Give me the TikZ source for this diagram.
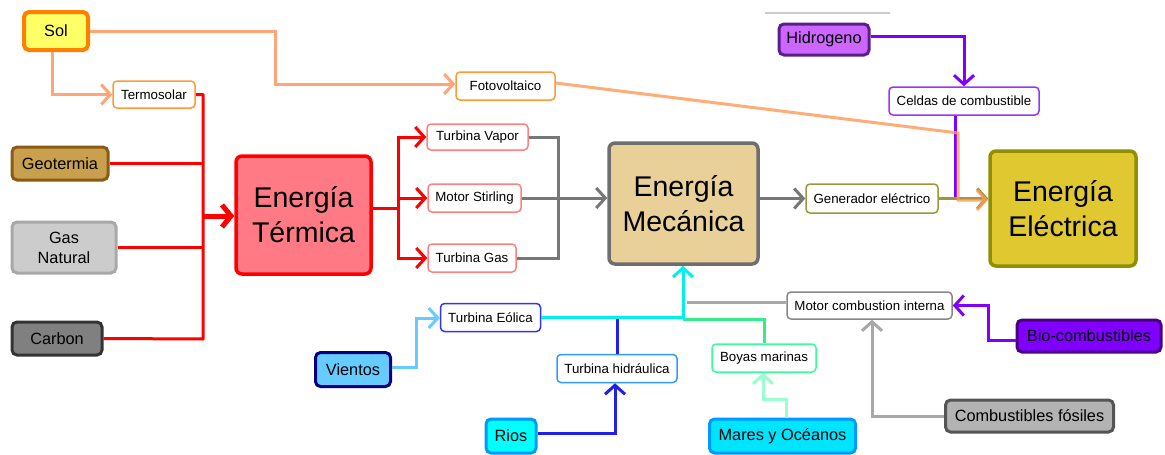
\documentclass[tikz,border=0pt]{standalone}
\usepackage{fontspec}
\setmainfont{Liberation Sans}
\usetikzlibrary{arrows.meta}
\definecolor{cSolF}{HTML}{FFFF66}
\definecolor{cSolD}{HTML}{FF8000}
\definecolor{cSun}{HTML}{FFA577}
\definecolor{cOrB}{HTML}{FF9933}
\definecolor{cGeoF}{HTML}{C9A04E}
\definecolor{cGeoD}{HTML}{8B5A14}
\definecolor{cGasF}{HTML}{CCCCCC}
\definecolor{cGasD}{HTML}{A8A8A8}
\definecolor{cCarF}{HTML}{808080}
\definecolor{cCarD}{HTML}{333333}
\definecolor{cTerF}{HTML}{FF7A85}
\definecolor{cRed}{HTML}{FF0000}
\definecolor{cTurb}{HTML}{FF8080}
\definecolor{cMecF}{HTML}{E8D098}
\definecolor{cMecD}{HTML}{6E6E6E}
\definecolor{cGrey}{HTML}{777777}
\definecolor{cGen}{HTML}{99993A}
\definecolor{cEleF}{HTML}{E0C830}
\definecolor{cEleD}{HTML}{8F8F00}
\definecolor{cHidF}{HTML}{CC66FF}
\definecolor{cHidD}{HTML}{5A1E8C}
\definecolor{cCel}{HTML}{9933FF}
\definecolor{cPur}{HTML}{8000FF}
\definecolor{cMci}{HTML}{888888}
\definecolor{cBioF}{HTML}{7F00FF}
\definecolor{cBioD}{HTML}{4B0082}
\definecolor{cComF}{HTML}{B3B3B3}
\definecolor{cComD}{HTML}{555555}
\definecolor{cLGrey}{HTML}{A8A8A8}
\definecolor{cEol}{HTML}{3333FF}
\definecolor{cVieF}{HTML}{66CCFF}
\definecolor{cVieD}{HTML}{000080}
\definecolor{cHid}{HTML}{3399FF}
\definecolor{cBoy}{HTML}{33FF99}
\definecolor{cRioF}{HTML}{00FFFF}
\definecolor{cRioD}{HTML}{0099FF}
\definecolor{cMarF}{HTML}{00E5FF}
\definecolor{cCyan}{HTML}{00F0F0}
\definecolor{cBlue}{HTML}{2020E8}
\definecolor{cGreen}{HTML}{33EE88}
\definecolor{cMint}{HTML}{99FFCC}
\definecolor{cOrLine}{HTML}{FF9955}
\begin{document}
\begin{tikzpicture}[x=1pt,y=-1pt,
  sbox/.style={draw, fill=white, rounded corners=4pt, line width=1.5pt, inner sep=0pt, align=center, font=\fontsize{13.3}{15}\selectfont},
  mbox/.style={draw, rounded corners=5pt, line width=3pt, inner sep=0pt, align=center, font=\fontsize{16.3}{20}\selectfont},
  bbox/.style={draw, rounded corners=6pt, line width=3.5pt, inner sep=0pt, align=center, font=\fontsize{28.5}{35}\selectfont},
  con/.style={line width=3pt},
  arr/.style={con, -{Straight Barb[length=9pt,width=20pt]}},
  ]
\useasboundingbox (0,0) rectangle (1165,455);
% stray top line
\draw[line width=2pt, color=cGasF] (765,13) -- (890,13);

% nodes
\node[mbox, fill=cSolF, draw=cSolD, line width=4pt, minimum width=64, minimum height=38] (sol) at (56,31) {Sol};
\node[sbox, draw=cOrB, minimum width=82, minimum height=27] (termo) at (154,94.5) {Termosolar};
\node[sbox, draw=cOrB, minimum width=99, minimum height=28] (foto) at (505.5,86) {Fotovoltaico};
\node[mbox, fill=cGeoF, draw=cGeoD, minimum width=96, minimum height=33] (geo) at (60,163.5) {Geotermia};
\node[mbox, fill=cGasF, draw=cGasD, minimum width=104, minimum height=51] (gas) at (64,247.5) {Gas\\Natural};
\node[mbox, fill=cCarF, draw=cCarD, minimum width=90, minimum height=33] (carbon) at (57,338.5) {Carbon};
\node[bbox, fill=cTerF, draw=cRed, minimum width=135, minimum height=118] (term) at (303.5,215) {Energía\\Térmica};
\node[sbox, draw=cTurb, minimum width=101, minimum height=26] (tvap) at (477.5,137) {Turbina Vapor};
\node[sbox, draw=cTurb, minimum width=93, minimum height=28] (mstir) at (474.5,198) {Motor Stirling};
\node[sbox, draw=cTurb, minimum width=88, minimum height=28] (tgas) at (472,258) {Turbina Gas};
\node[bbox, fill=cMecF, draw=cMecD, minimum width=149, minimum height=121] (mec) at (683.5,203.5) {Energía\\Mecánica};
\node[sbox, draw=cGen, minimum width=132, minimum height=29] (gen) at (872,198.5) {Generador eléctrico};
\node[bbox, fill=cEleF, draw=cEleD, minimum width=146, minimum height=115] (elec) at (1063,208.5) {Energía\\Eléctrica};
\node[mbox, fill=cHidF, draw=cHidD, minimum width=90, minimum height=31] (hid) at (824,39.5) {Hidrogeno};
\node[sbox, draw=cCel, minimum width=150, minimum height=28] (celdas) at (964,101) {Celdas de combustible};
\node[sbox, draw=cMci, minimum width=165, minimum height=27] (mci) at (869.5,305.5) {Motor combustion interna};
\node[mbox, fill=cBioF, draw=cBioD, minimum width=144, minimum height=32] (bio) at (1089,336) {Bio-combustibles};
\node[mbox, fill=cComF, draw=cComD, minimum width=168, minimum height=32] (comb) at (1029.5,416) {Combustibles fósiles};
\node[sbox, draw=cEol, minimum width=100, minimum height=28] (teol) at (490.5,317.5) {Turbina Eólica};
\node[mbox, fill=cVieF, draw=cVieD, minimum width=75, minimum height=34] (vien) at (353,369.5) {Vientos};
\node[sbox, draw=cHid, minimum width=120, minimum height=28] (thid) at (617,368.5) {Turbina hidráulica};
\node[sbox, draw=cBoy, minimum width=104, minimum height=28] (boyas) at (764,358) {Boyas marinas};
\node[mbox, fill=cRioF, draw=cRioD, minimum width=50, minimum height=34] (rios) at (511,436) {Rios};
\node[mbox, fill=cMarF, draw=cRioD, minimum width=146, minimum height=34] (mares) at (782.5,436) {Mares y Océanos};

% coordinates
\coordinate (sunB) at (275,31);
\coordinate (sunC) at (275,84);
\coordinate (redX) at (203,216);
\coordinate (outX) at (398,208);
\coordinate (greyX) at (558,137);
\coordinate (pvA) at (958,133);
\coordinate (pvB) at (958,200);
\coordinate (elIn) at (988,200);
\coordinate (celB) at (955,200);
\coordinate (hidA) at (964,36);
\coordinate (vA) at (416,367);
\coordinate (vB) at (416,318);
\coordinate (eolE) at (683,317);
\coordinate (mecB) at (683,266);
\coordinate (hidU) at (617,317);
\coordinate (boyA) at (683,319);
\coordinate (boyB) at (764,319);
\coordinate (mciL) at (687,302);
\coordinate (rioA) at (615,433);
\coordinate (marA) at (786,399);
\coordinate (marB) at (763,399);
\coordinate (bioA) at (988,340);
\coordinate (bioB) at (988,305.5);
\coordinate (comA) at (872,416);

% sun connectors
\draw[arr, cSun] ([xshift=-4pt]sol.south) |- (termo.west);
\draw[arr, cSun] (sol.east) -- (sunB) -- (sunC) -- (sunC -| foto.west);

% red connectors to Energia Termica
\draw[con, cRed, line join=round] (termo.east) -| (203,339) -- (carbon.east);
\draw[con, cRed] (geo.east) -- (geo.east -| redX);
\draw[con, cRed] (gas.east) -- (gas.east -| redX);
\draw[line width=5pt, cRed, -{Straight Barb[length=9pt,width=22pt]}] ([xshift=-1.5pt]redX) -- (redX -| term.west);

% out of Energia Termica
\draw[con, cRed] (term.east |- outX) -- (outX);
\draw[arr, cRed] (outX) |- (tvap.west);
\draw[arr, cRed] (outX) |- (tgas.west);
\draw[arr, cRed] (outX) -- (outX |- mstir.west) -- (mstir.west);

% turbines to Energia Mecanica
\draw[con, cGrey] (tvap.east) -- (greyX) |- (tgas.east);
\draw[arr, cGrey] (mstir.east) -- (mstir.east -| mec.west);
\draw[arr, cGrey] (mec.east |- gen.west) -- (gen.west);

% to Energia Electrica
\draw[con, cPur] (celdas.south -| celB) -- (celB);
\draw[arr, cGen] (gen.east) -- (gen.east -| elec.west);
\draw[arr, cOrLine, opacity=0.8] ([yshift=3pt]foto.east) -- (pvA) -- (pvB) -- (elIn);
\draw[arr, cPur] (hid.east |- hidA) -| (celdas.north);

% lower connectors
\draw[arr, cVieF] (vien.east |- vA) -- (vA) -- (vB) -- (vB -| teol.west);
\draw[con, cBlue] (thid.north) -- (hidU);
\draw[con, cGreen] (boyas.north) -- (boyB) -- (boyA);
\draw[con, cLGrey] (mci.west |- mciL) -- (mciL);
\draw[arr, cCyan] (teol.east |- eolE) -- (eolE) -- (mecB);
\draw[arr, cBlue] (rios.east |- rioA) -- (rioA) -- (rioA |- thid.south);
\draw[arr, cMint] (mares.north -| marA) -- (marA) -- (marB) -- (marB |- boyas.south);
\draw[arr, cPur] (bio.west |- bioA) -- (bioA) -- (bioB) -- (mci.east);
\draw[arr, cLGrey] (comb.west) -- (comA) -- (comA |- mci.south);
\end{tikzpicture}
\end{document}
